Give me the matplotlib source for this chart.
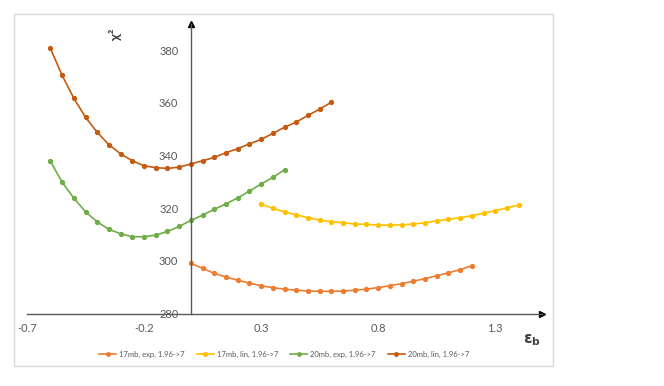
import matplotlib.pyplot as plt
import matplotlib.patches as mpatches
import numpy as np

plt.rcParams['font.family'] = ['Lato', 'DejaVu Sans']

# epsilon_b values for each series (0.05 steps)
x_17exp = np.round(np.arange(0.0, 1.2001, 0.05), 2)
x_17lin = np.round(np.arange(0.3, 1.4001, 0.05), 2)
x_20exp = np.round(np.arange(-0.6, 0.4001, 0.05), 2)
x_20lin = np.round(np.arange(-0.6, 0.6001, 0.05), 2)

chi2_17exp = [299.1, 297.2, 295.3, 293.9, 292.7, 291.6, 290.6, 289.9, 289.3, 288.9,
              288.6, 288.5, 288.5, 288.6, 288.9, 289.3, 289.9, 290.6, 291.4, 292.3,
              293.3, 294.4, 295.5, 296.7, 298.2]
chi2_17lin = [321.5, 320.0, 318.6, 317.5, 316.4, 315.5, 314.9, 314.5, 314.0, 313.9,
              313.6, 313.6, 313.7, 314.0, 314.5, 315.2, 315.8, 316.4, 317.2, 318.1,
              319.1, 320.1, 321.2]
chi2_20exp = [337.8, 329.9, 323.8, 318.7, 314.8, 312.0, 310.3, 309.2, 309.2, 309.8,
              311.2, 313.1, 315.4, 317.4, 319.6, 321.7, 323.9, 326.5, 329.2, 331.7,
              334.6]
chi2_20lin = [380.6, 370.4, 361.7, 354.5, 348.8, 344.1, 340.6, 338.0, 336.1, 335.4,
              335.1, 335.6, 336.8, 338.0, 339.3, 341.1, 342.6, 344.4, 346.1, 348.4,
              350.7, 352.7, 355.2, 357.6, 360.2]

labels = ["17mb, exp, 1.96->7", "17mb, lin, 1.96->7",
          "20mb, exp, 1.96->7", "20mb, lin, 1.96->7"]
colors = ["#ED7D31", "#FFC000", "#70AD47", "#C55A11"]

xticks = [-0.7, -0.2, 0.3, 0.8, 1.3]
yticks = [280, 300, 320, 340, 360, 380]

fig = plt.figure(figsize=(6.64, 3.86), dpi=100)
# chart frame
fig.patches.append(mpatches.Rectangle((14 / 664, 20 / 386), 539 / 664, 352 / 386,
                                      transform=fig.transFigure, fill=False,
                                      edgecolor="#D9D9D9", linewidth=1.0))

ax = fig.add_axes([0.0407, 0.1873, 0.7756, 0.7513])
series = [(x_17exp, chi2_17exp), (x_17lin, chi2_17lin),
          (x_20exp, chi2_20exp), (x_20lin, chi2_20lin)]
for (xs, ys), lab, c in zip(series, labels, colors):
    ax.plot(xs, ys, color=c, linewidth=1.2, marker='o', markersize=2.8, label=lab)

ax.set_xlim(-0.7, 1.5)
ax.set_ylim(280, 390)
ax.set_xticks(xticks)
ax.set_xticklabels([str(v) for v in xticks])
ax.set_yticks(yticks)

for s in ["top", "right"]:
    ax.spines[s].set_visible(False)
ax.spines["left"].set_position(("data", 0))
ax.spines["left"].set_color("#595959")
ax.spines["bottom"].set_color("#595959")
ax.spines["left"].set_linewidth(1.0)
ax.spines["bottom"].set_linewidth(1.0)
ax.tick_params(length=0, labelsize=8, labelcolor="#595959")
ax.tick_params(axis='x', pad=7)
ax.tick_params(axis='y', pad=9)

# arrow heads
ax.plot(1.5, 280, marker='>', color='black', markersize=5, clip_on=False)
ax.plot(0, 390, marker='^', color='black', markersize=5, clip_on=False)

ax.text(-0.32, 386, "χ²", rotation=90, ha='center', va='center', fontsize=10,
        color="#404040", fontweight='bold')
ax.text(1.458, 270, r"$\mathbf{\varepsilon_b}$", ha='center', va='center',
        fontsize=11, color="#404040")

fig.legend(loc='center', bbox_to_anchor=(284 / 664, 1 - 354 / 386), ncol=4,
           frameon=False, fontsize=5.5, handlelength=2.2, columnspacing=1.6,
           handletextpad=0.4, labelcolor="#595959", markerscale=0.9)

plt.savefig("out.png", dpi=100)
